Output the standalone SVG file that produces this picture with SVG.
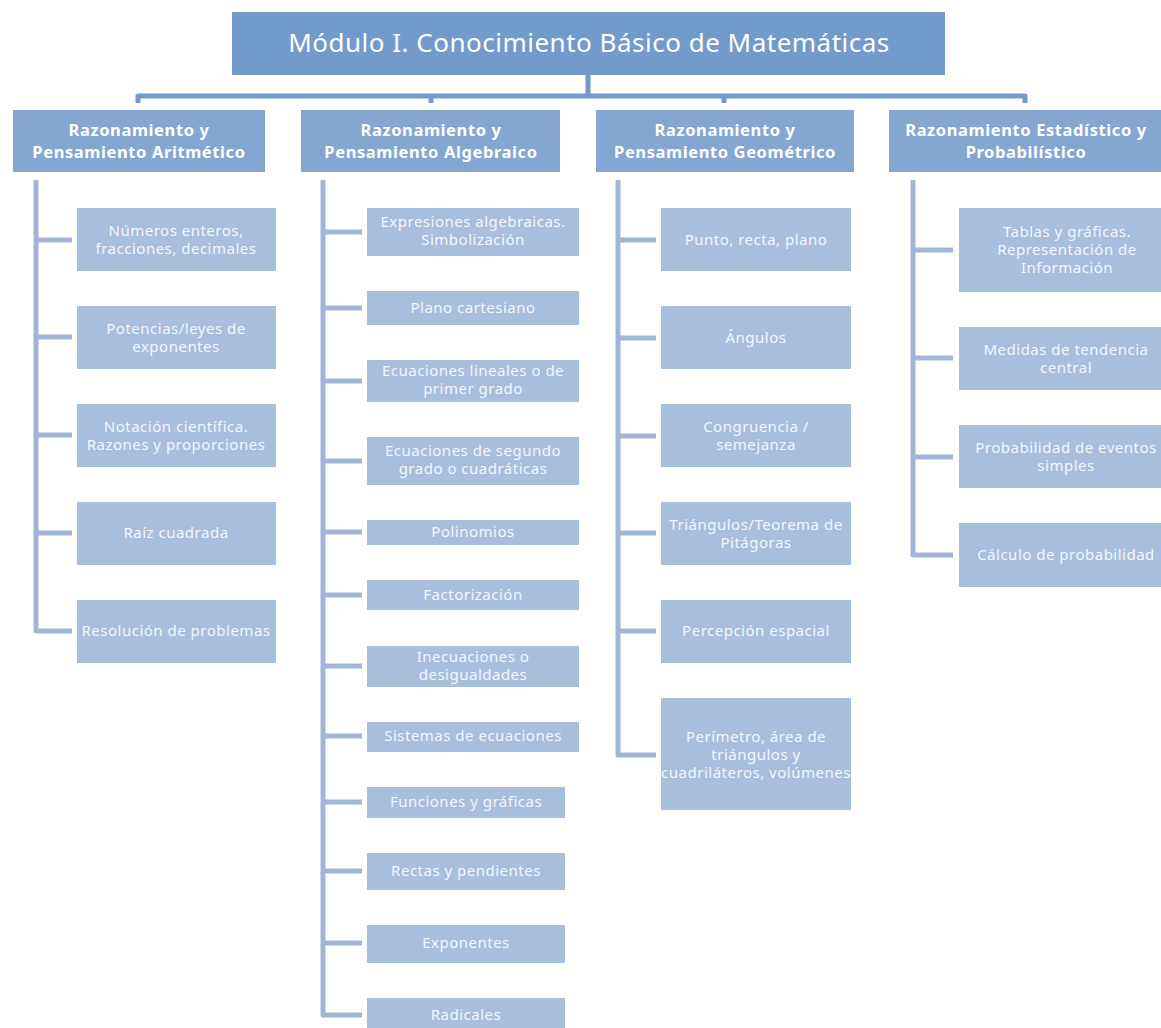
<svg xmlns="http://www.w3.org/2000/svg" width="1161" height="1028" viewBox="0 0 1161 1028">
<style>
.title{fill:#729bcb}
.hdr{fill:#85a6d1}
.leaf{fill:#a7bfdd}
.tt{font-family:"Noto Sans","Open Sans",sans-serif;font-size:26px;letter-spacing:0.5px;fill:#ffffff;text-anchor:middle}
.ht{font-family:"Noto Sans","Open Sans",sans-serif;font-size:16.5px;letter-spacing:0.6px;font-weight:bold;fill:#ffffff;text-anchor:middle}
.lt{font-family:"Noto Sans","Open Sans",sans-serif;font-size:15px;letter-spacing:0.5px;fill:#f3f6fb;text-anchor:middle}
.top{fill:none;stroke:#729bcb;stroke-width:5;stroke-linejoin:round}
.sp{fill:none;stroke:#a3b5d6;stroke-width:5;stroke-linejoin:round}
</style>
<rect width="1161" height="1028" fill="#ffffff"/>
<g id="connectors">
<path class="top" d="M588 75 V96 M138 103 V96 H1025 V103 M431 96 V103 M724 96 V103"/>
<path class="sp" d="M36 180 V631 H72 M36 240 H72 M36 337 H72 M36 435 H72 M36 533 H72"/>
<path class="sp" d="M323 180 V1015 H362 M323 232 H362 M323 308 H362 M323 381 H362 M323 461 H362 M323 532 H362 M323 595 H362 M323 666 H362 M323 736 H362 M323 802 H362 M323 871 H362 M323 943 H362"/>
<path class="sp" d="M618 180 V755 H656 M618 240 H656 M618 338 H656 M618 436 H656 M618 533 H656 M618 631 H656"/>
<path class="sp" d="M913 180 V555 H953 M913 250 H953 M913 358 H953 M913 457 H953"/>
</g>
<g id="title"><rect class="title" x="232" y="12" width="713" height="63"/><text class="tt" x="589" y="52">Módulo I. Conocimiento Básico de Matemáticas</text></g>
<g id="h1"><rect class="hdr" x="13" y="110" width="252" height="62"/><text class="ht" x="139" y="135.5">Razonamiento y</text><text class="ht" x="139" y="158">Pensamiento Aritmético</text></g>
<g id="h2"><rect class="hdr" x="301" y="110" width="259" height="62"/><text class="ht" x="431" y="135.5">Razonamiento y</text><text class="ht" x="431" y="158">Pensamiento Algebraico</text></g>
<g id="h3"><rect class="hdr" x="596" y="110" width="258" height="62"/><text class="ht" x="725" y="135.5">Razonamiento y</text><text class="ht" x="725" y="158">Pensamiento Geométrico</text></g>
<g id="h4"><rect class="hdr" x="889" y="110" width="272" height="62"/><text class="ht" x="1026" y="135.5">Razonamiento Estadístico y</text><text class="ht" x="1026" y="158">Probabilístico</text></g>

<g id="a1"><rect class="leaf" x="77" y="208" width="199" height="63"/><text class="lt" x="176" y="236">Números enteros,</text><text class="lt" x="176" y="254">fracciones, decimales</text></g>
<g id="a2"><rect class="leaf" x="77" y="306" width="199" height="63"/><text class="lt" x="176" y="334">Potencias/leyes de</text><text class="lt" x="176" y="352">exponentes</text></g>
<g id="a3"><rect class="leaf" x="77" y="404" width="199" height="63"/><text class="lt" x="176" y="432">Notación científica.</text><text class="lt" x="176" y="450">Razones y proporciones</text></g>
<g id="a4"><rect class="leaf" x="77" y="502" width="199" height="63"/><text class="lt" x="176" y="538">Raíz cuadrada</text></g>
<g id="a5"><rect class="leaf" x="77" y="600" width="199" height="63"/><text class="lt" x="176" y="636">Resolución de problemas</text></g>

<g id="b1"><rect class="leaf" x="367" y="208" width="212" height="48"/><text class="lt" x="473" y="227">Expresiones algebraicas.</text><text class="lt" x="473" y="245">Simbolización</text></g>
<g id="b2"><rect class="leaf" x="367" y="291" width="212" height="34"/><text class="lt" x="473" y="313">Plano cartesiano</text></g>
<g id="b3"><rect class="leaf" x="367" y="360" width="212" height="42"/><text class="lt" x="473" y="376">Ecuaciones lineales o de</text><text class="lt" x="473" y="394">primer grado</text></g>
<g id="b4"><rect class="leaf" x="367" y="437" width="212" height="48"/><text class="lt" x="473" y="456">Ecuaciones de segundo</text><text class="lt" x="473" y="474">grado o cuadráticas</text></g>
<g id="b5"><rect class="leaf" x="367" y="520" width="212" height="25"/><text class="lt" x="473" y="537">Polinomios</text></g>
<g id="b6"><rect class="leaf" x="367" y="580" width="212" height="30"/><text class="lt" x="473" y="600">Factorización</text></g>
<g id="b7"><rect class="leaf" x="367" y="646" width="212" height="41"/><text class="lt" x="473" y="662">Inecuaciones o</text><text class="lt" x="473" y="680">desigualdades</text></g>
<g id="b8"><rect class="leaf" x="367" y="722" width="212" height="30"/><text class="lt" x="473" y="741">Sistemas de ecuaciones</text></g>
<g id="b9"><rect class="leaf" x="367" y="787" width="198" height="31"/><text class="lt" x="466" y="807">Funciones y gráficas</text></g>
<g id="b10"><rect class="leaf" x="367" y="853" width="198" height="37"/><text class="lt" x="466" y="876">Rectas y pendientes</text></g>
<g id="b11"><rect class="leaf" x="367" y="925" width="198" height="38"/><text class="lt" x="466" y="948">Exponentes</text></g>
<g id="b12"><rect class="leaf" x="367" y="998" width="198" height="30"/><text class="lt" x="466" y="1020">Radicales</text></g>

<g id="c1"><rect class="leaf" x="661" y="208" width="190" height="63"/><text class="lt" x="756" y="245">Punto, recta, plano</text></g>
<g id="c2"><rect class="leaf" x="661" y="306" width="190" height="63"/><text class="lt" x="756" y="343">Ángulos</text></g>
<g id="c3"><rect class="leaf" x="661" y="404" width="190" height="63"/><text class="lt" x="756" y="432">Congruencia /</text><text class="lt" x="756" y="450">semejanza</text></g>
<g id="c4"><rect class="leaf" x="661" y="502" width="190" height="63"/><text class="lt" x="756" y="530">Triángulos/Teorema de</text><text class="lt" x="756" y="548">Pitágoras</text></g>
<g id="c5"><rect class="leaf" x="661" y="600" width="190" height="63"/><text class="lt" x="756" y="636">Percepción espacial</text></g>
<g id="c6"><rect class="leaf" x="661" y="698" width="190" height="112"/><text class="lt" x="756" y="742">Perímetro, área de</text><text class="lt" x="756" y="760">triángulos y</text><text class="lt" x="756" y="778" textLength="190" lengthAdjust="spacingAndGlyphs">cuadriláteros, volúmenes</text></g>

<g id="d1"><rect class="leaf" x="959" y="208" width="202" height="84"/><text class="lt" x="1067" y="237">Tablas y gráficas.</text><text class="lt" x="1067" y="255">Representación de</text><text class="lt" x="1067" y="273">Información</text></g>
<g id="d2"><rect class="leaf" x="959" y="327" width="202" height="63"/><text class="lt" x="1066" y="355">Medidas de tendencia</text><text class="lt" x="1066" y="373">central</text></g>
<g id="d3"><rect class="leaf" x="959" y="425" width="202" height="63"/><text class="lt" x="1066" y="453">Probabilidad de eventos</text><text class="lt" x="1066" y="471">simples</text></g>
<g id="d4"><rect class="leaf" x="959" y="523" width="202" height="64"/><text class="lt" x="1066" y="560">Cálculo de probabilidad</text></g>
</svg>
